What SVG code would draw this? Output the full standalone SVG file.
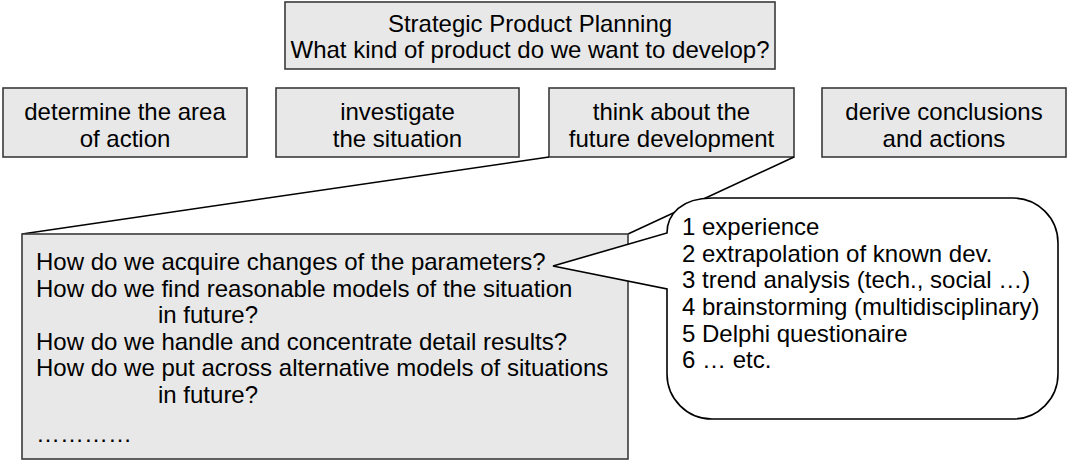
<svg xmlns="http://www.w3.org/2000/svg" width="1068" height="461" viewBox="0 0 1068 461">
  <style>
    .box { fill: #e8e8e8; stroke: #3a3a3a; stroke-width: 1.6; }
    .t { font-family: "Liberation Sans", Arial, sans-serif; font-size: 24px; fill: #000; }
    .c { text-anchor: middle; }
    .ln { stroke: #000; stroke-width: 1.5; fill: none; }
    .bubble { fill: #fff; stroke: #000; stroke-width: 1.6; stroke-linejoin: miter; }
  </style>
  <rect width="1068" height="461" fill="#fff"/>

  <g id="title">
    <rect class="box" x="285" y="2" width="490" height="67"/>
    <text class="t c" x="530" y="32">Strategic Product Planning</text>
    <text class="t c" x="530" y="58">What kind of product do we want to develop?</text>
  </g>

  <g id="step1">
    <rect class="box" x="3" y="88" width="244" height="69"/>
    <text class="t c" x="125" y="120">determine the area</text>
    <text class="t c" x="125" y="147">of action</text>
  </g>
  <g id="step2">
    <rect class="box" x="276" y="88" width="243" height="69"/>
    <text class="t c" x="397.5" y="120">investigate</text>
    <text class="t c" x="397.5" y="147">the situation</text>
  </g>
  <g id="step3">
    <rect class="box" x="549" y="88" width="245" height="69"/>
    <text class="t c" x="671.5" y="120">think about the</text>
    <text class="t c" x="671.5" y="147">future development</text>
  </g>
  <g id="step4">
    <rect class="box" x="822" y="88" width="244" height="69"/>
    <text class="t c" x="944" y="120">derive conclusions</text>
    <text class="t c" x="944" y="147">and actions</text>
  </g>

  <g id="connectors">
    <line class="ln" x1="549" y1="157" x2="22" y2="234"/>
    <line class="ln" x1="794" y1="157" x2="628" y2="234"/>
  </g>

  <g id="questions">
    <rect class="box" x="22" y="234" width="606" height="225" stroke-width="2"/>
    <text class="t" x="36" y="270">How do we acquire changes of the parameters?</text>
    <text class="t" x="36" y="296.5">How do we find reasonable models of the situation</text>
    <text class="t" x="158" y="323">in future?</text>
    <text class="t" x="36" y="349.5">How do we handle and concentrate detail results?</text>
    <text class="t" x="36" y="376">How do we put across alternative models of situations</text>
    <text class="t" x="158" y="402.5">in future?</text>
    <text class="t" x="36" y="442">…………</text>
  </g>

  <g id="methods">
    <path class="bubble" d="M 712,198 H 1013 A 45 45 0 0 1 1058,243 V 374 A 45 45 0 0 1 1013,419 H 712 A 45 45 0 0 1 667,374 V 289 L 553,266 L 667,233 C 667,214 682,198 712,198 Z"/>
    <text class="t" x="682" y="235">1 experience</text>
    <text class="t" x="682" y="262">2 extrapolation of known dev.</text>
    <text class="t" x="682" y="288">3 trend analysis (tech., social …)</text>
    <text class="t" x="682" y="315">4 brainstorming (multidisciplinary)</text>
    <text class="t" x="682" y="342">5 Delphi questionaire</text>
    <text class="t" x="682" y="368">6 … etc.</text>
  </g>
</svg>
